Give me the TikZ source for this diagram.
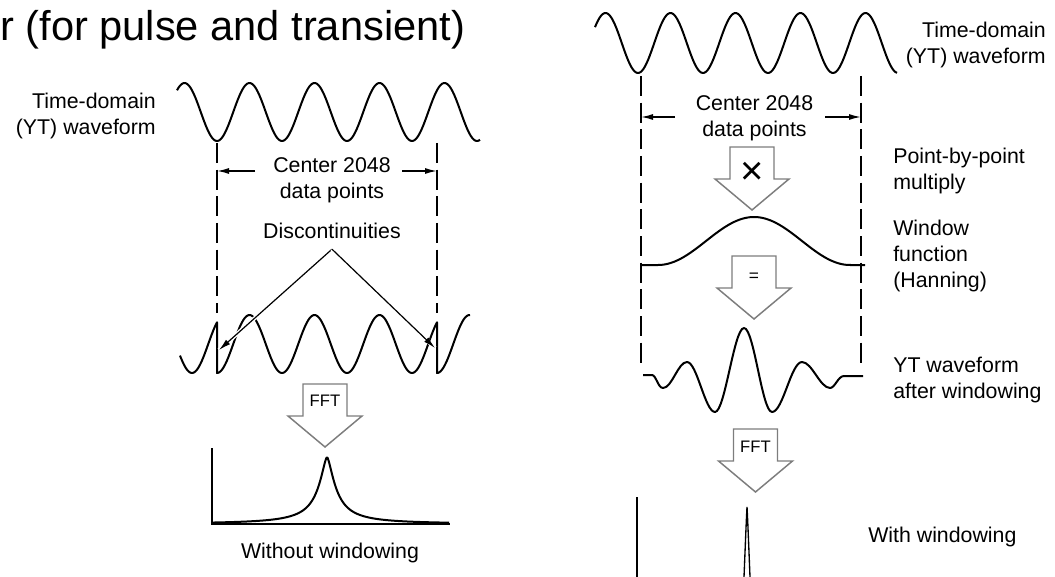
\documentclass[tikz,border=0pt]{standalone}
\usepackage{fontspec}
\setmainfont{Liberation Sans}
\usepackage{tikz}
\usetikzlibrary{arrows.meta,positioning}

\definecolor{arrowgray}{RGB}{125,125,125}
\newcommand{\lblfont}{\fontsize{16}{19.5}\selectfont}
\newcommand{\titlefont}{\fontsize{31.2}{37}\selectfont}
\newcommand{\fftfont}{\fontsize{12.5}{15}\selectfont}

\tikzset{
  pics/hollowarrow/.style 2 args={code={
    \draw[arrowedge] (-22,0) -- (22,0) -- (22,32) -- (37,32) -- (0,63) -- (-37,32) -- (-22,32) -- cycle;
    \node[inner sep=0pt] (-lbl) at (0,#2) {#1};
  }}
}

\begin{document}
\begin{tikzpicture}[x=0.75pt, y=-0.75pt,
  wave/.style={line width=1.5pt, line join=round},
  axisline/.style={line width=1.2pt},
  guide/.style={line width=1.1pt, dash pattern=on 15pt off 5pt},
  dimarrow/.style={line width=1.1pt, -{Latex[length=9pt,width=4.5pt]}},
  discarrow/.style={line width=0.9pt, -{Latex[length=9pt,width=4.5pt]}, preaction={draw=white, line width=3pt, -}},
  lbl/.style={font=\lblfont, inner sep=0pt},
  arrowedge/.style={draw=arrowgray, line width=1.1pt, fill=white, line join=miter}]

\useasboundingbox (0,0) rectangle (1055,577);

\node[anchor=base west, inner sep=0pt, font=\titlefont] (title) at (0,41) {r (for pulse and transient)};

% left: without windowing
\node[lbl, align=right, anchor=north east] (tdL) at (156,93) {Time-domain\\(YT) waveform};
\draw[wave] plot[domain=177:480, samples=200] (\x,{112+29*cos((\x-217)/65*360)});

\draw[guide] (217,143) -- (217,313);
\draw[guide] (437,143) -- (437,313);

\node[lbl, align=center, anchor=north] (centerL) at (332,157) {Center 2048\\data points};
\coordinate (dimLa) at (255,171);
\coordinate (dimLb) at (217,171);
\coordinate (dimLc) at (402,171);
\coordinate (dimLd) at (437,171);
\draw[dimarrow] (dimLa) -- (dimLb);
\draw[dimarrow] (dimLc) -- (dimLd);

\draw[wave] plot[domain=180:217, samples=30] (\x,{344+29*cos((\x+3)/65*360)})
  -- plot[domain=217:437, samples=160] (\x,{344+29*cos((\x-217)/65*360)})
  -- plot[domain=437:470, samples=30] (\x,{344+29*cos((\x-437)/65*360)});

\node[lbl, anchor=north] (disc) at (332,223) {Discontinuities};
\coordinate[below=7.5pt of disc] (apex);
\coordinate (jumpL) at (219,350);
\coordinate (jumpR) at (435,348);
\draw[discarrow] (apex) -- (jumpL);
\draw[discarrow] (apex) -- (jumpR);

\pic (fftL) at (325,384) {hollowarrow={\fftfont FFT}{17}};

\draw[axisline] (212,448) -- (212,524) -- (450,524);
\draw[wave] plot[domain=213:449, samples=240] (\x,{524-67/(1+((abs(\x-327)+0.01)/10)^1.56)});
\node[lbl, anchor=base] (nowin) at (330,558) {Without windowing};

% right: with windowing
\draw[wave] plot[domain=595:897, samples=200] (\x,{43+30*cos((\x-638)/65*360)});
\node[lbl, align=right, anchor=north east] (tdR) at (1046,22) {Time-domain\\(YT) waveform};

\draw[guide] (641,76) -- (641,367);
\draw[guide] (861,76) -- (861,367);

\node[lbl, align=center, anchor=north] (centerR) at (754.5,95) {Center 2048\\data points};
\coordinate (dimRa) at (675,117);
\coordinate (dimRb) at (641,117);
\coordinate (dimRc) at (825,117);
\coordinate (dimRd) at (861,117);
\draw[dimarrow] (dimRa) -- (dimRb);
\draw[dimarrow] (dimRc) -- (dimRd);

\pic (mult) at (752,147) {hollowarrow={\fontsize{30}{30}\selectfont ×}{26}};
\node[lbl, align=left, anchor=north west] (pbp) at (893,148) {Point-by-point\\multiply};

\draw[wave] (642,265) -- (658,265)
  -- plot[domain=658:850, samples=100] (\x,{265-48*(0.5-0.5*cos((\x-658)/192*360))})
  -- (865,265);
\node[lbl, align=left, anchor=north west] (winfn) at (893,220) {Window\\function\\(Hanning)};

\pic (equal) at (754,256) {hollowarrow={\fontsize{13}{15}\selectfont =}{21}};

\draw[wave] (643,375) -- (652,375)
  .. controls (656,375) and (658,388) .. (663,388)
  .. controls (672,388) and (678,362) .. (687,362)
  .. controls (697,362) and (705,412) .. (715,412)
  .. controls (725,412) and (734,328) .. (744,328)
  .. controls (754,328) and (762,412) .. (772,412)
  .. controls (783,412) and (791,362) .. (802,362)
  .. controls (812,362) and (820,388) .. (830,388)
  .. controls (835,388) and (838,376) .. (844,376) -- (863,376);
\node[lbl, align=left, anchor=north west] (ytwin) at (893,357) {YT waveform\\after windowing};

\pic (fftR) at (755.5,429) {hollowarrow={\fftfont FFT}{17.5}};

\draw[axisline] (637,497) -- (637,577);
\draw[line width=1pt] (744,577) .. controls (745.5,540) and (746.5,515) .. (747,507)
  .. controls (747.5,515) and (748.5,540) .. (750,577);
\node[lbl, anchor=base west] (withwin) at (868,542) {With windowing};

\end{tikzpicture}
\end{document}
